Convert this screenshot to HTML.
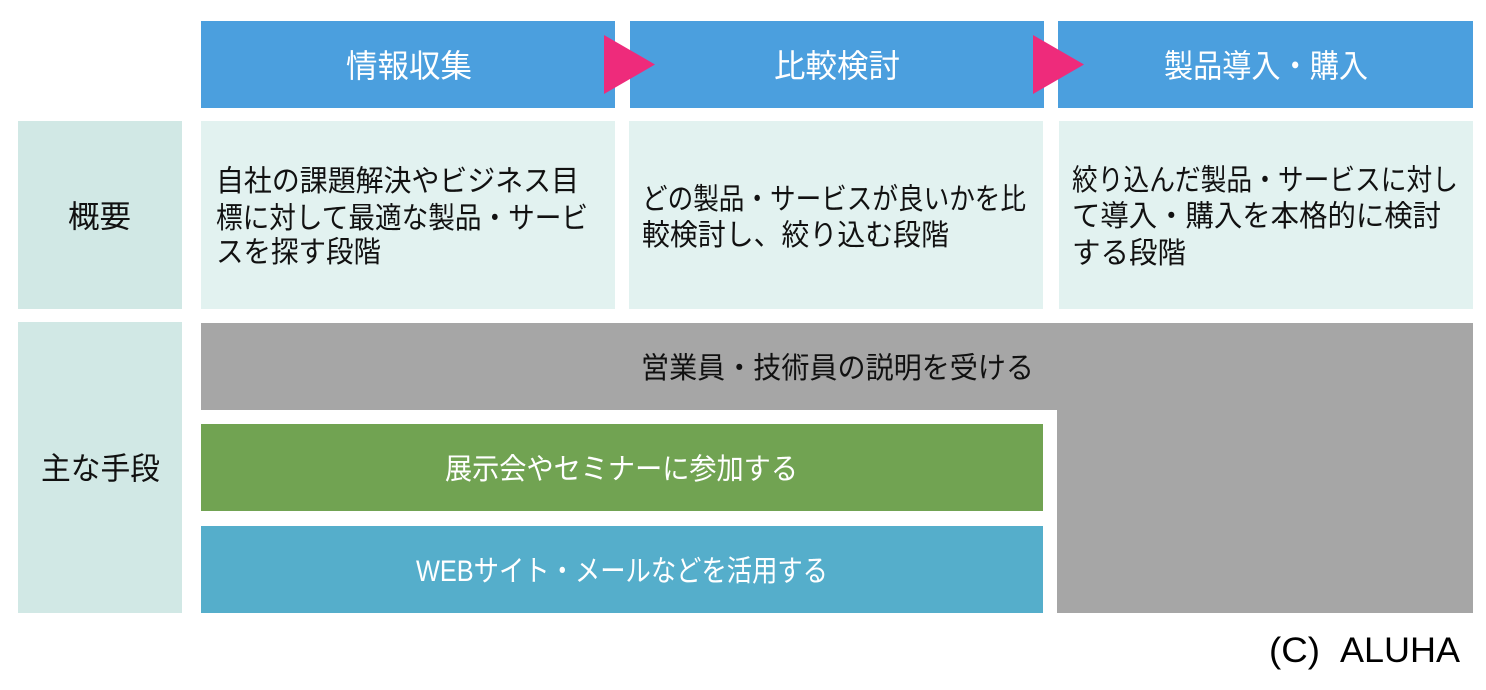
<!DOCTYPE html>
<html lang="ja">
<head>
<meta charset="utf-8">
<style>
  html, body { margin: 0; padding: 0; background: #ffffff; }
  body { width: 1486px; height: 690px; overflow: hidden; }
  svg { display: block; }
  text { font-family: "Liberation Sans", "Noto Sans CJK JP", sans-serif; }
</style>
</head>
<body>
<svg width="1486" height="690" viewBox="0 0 1486 690" xmlns="http://www.w3.org/2000/svg">
  <rect x="0" y="0" width="1486" height="690" fill="#ffffff"/>

  <!-- Header boxes -->
  <rect x="201" y="21" width="414" height="87" fill="#4B9FDE"/>
  <rect x="630" y="21" width="414" height="87" fill="#4B9FDE"/>
  <rect x="1058" y="21" width="415" height="87" fill="#4B9FDE"/>

  <!-- Arrows -->
  <polygon points="604,35 655,64.5 604,94" fill="#EE2B7B"/>
  <polygon points="1033,35 1084,64.5 1033,94" fill="#EE2B7B"/>

  <!-- Header text -->
  <text x="346" y="77" font-size="32" fill="#ffffff" textLength="126" lengthAdjust="spacingAndGlyphs">情報収集</text>
  <text x="774" y="77" font-size="32" fill="#ffffff" textLength="126" lengthAdjust="spacingAndGlyphs">比較検討</text>
  <text x="1164" y="77" font-size="32" fill="#ffffff" textLength="204" lengthAdjust="spacingAndGlyphs">製品導入・購入</text>

  <!-- Row 1 -->
  <rect x="18" y="121" width="164" height="188" fill="#D1E8E5"/>
  <rect x="201" y="121" width="414" height="188" fill="#E2F2F0"/>
  <rect x="629" y="121" width="414" height="188" fill="#E2F2F0"/>
  <rect x="1059" y="121" width="414" height="188" fill="#E2F2F0"/>

  <text x="68" y="227.5" font-size="31" fill="#111111" textLength="63" lengthAdjust="spacingAndGlyphs">概要</text>

  <text x="216" y="191" font-size="29.5" fill="#111111" textLength="363" lengthAdjust="spacingAndGlyphs">自社の課題解決やビジネス目</text>
  <text x="216" y="228" font-size="29.5" fill="#111111" textLength="372" lengthAdjust="spacingAndGlyphs">標に対して最適な製品・サービ</text>
  <text x="216" y="262" font-size="29.5" fill="#111111" textLength="165" lengthAdjust="spacingAndGlyphs">スを探す段階</text>

  <text x="642" y="209" font-size="29.5" fill="#111111" textLength="384" lengthAdjust="spacingAndGlyphs">どの製品・サービスが良いかを比</text>
  <text x="642" y="245" font-size="29.5" fill="#111111" textLength="307" lengthAdjust="spacingAndGlyphs">較検討し、絞り込む段階</text>

  <text x="1072" y="190" font-size="29.5" fill="#111111" textLength="386" lengthAdjust="spacingAndGlyphs">絞り込んだ製品・サービスに対し</text>
  <text x="1072" y="226" font-size="29.5" fill="#111111" textLength="369" lengthAdjust="spacingAndGlyphs">て導入・購入を本格的に検討</text>
  <text x="1072" y="263" font-size="29.5" fill="#111111" textLength="114" lengthAdjust="spacingAndGlyphs">する段階</text>

  <!-- Row 2 -->
  <rect x="18" y="322" width="164" height="291" fill="#D1E8E5"/>
  <text x="41" y="479.5" font-size="31" fill="#111111" textLength="119" lengthAdjust="spacingAndGlyphs">主な手段</text>

  <polygon points="201,323 1473,323 1473,613 1057,613 1057,410 201,410" fill="#A6A6A6"/>
  <rect x="201" y="424" width="842" height="87" fill="#71A352"/>
  <rect x="201" y="526" width="842" height="87" fill="#55AECB"/>

  <text x="641" y="378" font-size="29.5" fill="#111111" textLength="393" lengthAdjust="spacingAndGlyphs">営業員・技術員の説明を受ける</text>
  <text x="445" y="479" font-size="29.5" fill="#ffffff" textLength="353" lengthAdjust="spacingAndGlyphs">展示会やセミナーに参加する</text>
  <text x="416" y="581" font-size="29.5" fill="#ffffff" textLength="412" lengthAdjust="spacingAndGlyphs">WEBサイト・メールなどを活用する</text>

  <!-- Copyright -->
  <text x="1269" y="662" font-size="35" fill="#000000" textLength="51" lengthAdjust="spacingAndGlyphs">(C)</text>
  <text x="1340" y="662" font-size="35" fill="#000000" textLength="120" lengthAdjust="spacingAndGlyphs">ALUHA</text>
</svg>
</body>
</html>
